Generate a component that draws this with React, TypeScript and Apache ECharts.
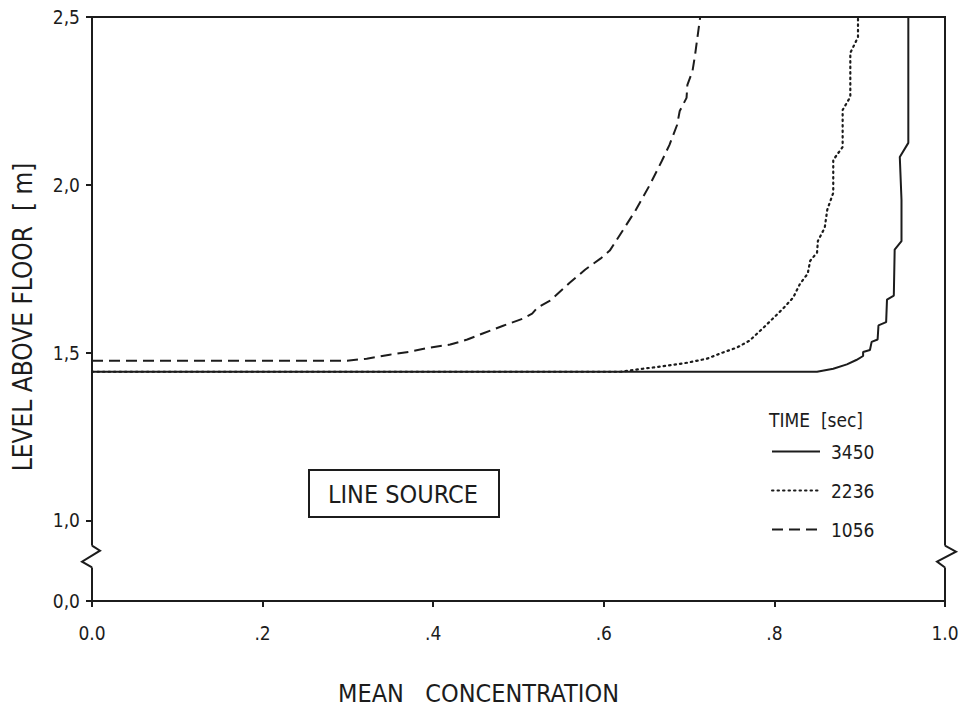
import React, { useEffect, useRef } from 'react';
import * as echarts from 'echarts';

// ---- data ----
const xTicks = [0, 0.2, 0.4, 0.6, 0.8, 1.0];
const xTickLabels = ['0.0', '.2', '.4', '.6', '.8', '1.0'];
// the lowest tick stands for 0,0 below an axis break
const yTicks = [0.76, 1.0, 1.5, 2.0, 2.5];
const yTickLabels = ['0,0', '1,0', '1,5', '2,0', '2,5'];

const seriesNames = ['3450', '2236', '1056'];

const solid3450: [number, number][] = [
  [0, 1.443], [0.85, 1.443], [0.869, 1.452], [0.885, 1.465], [0.896, 1.478],
  [0.904, 1.49], [0.904, 1.502], [0.912, 1.508], [0.914, 1.532], [0.921, 1.539],
  [0.922, 1.581], [0.931, 1.591], [0.932, 1.658], [0.94, 1.67], [0.941, 1.807],
  [0.949, 1.832], [0.949, 1.955], [0.947, 2.083], [0.957, 2.125], [0.957, 2.5],
];

const dotted2236: [number, number][] = [
  [0, 1.443], [0.62, 1.443], [0.646, 1.452], [0.674, 1.461], [0.698, 1.47],
  [0.721, 1.482], [0.736, 1.497], [0.756, 1.515], [0.771, 1.536], [0.787, 1.574],
  [0.798, 1.601], [0.81, 1.631], [0.822, 1.664], [0.83, 1.705], [0.839, 1.735],
  [0.842, 1.774], [0.85, 1.798], [0.851, 1.833], [0.859, 1.872], [0.862, 1.926],
  [0.869, 1.976], [0.869, 2.074], [0.88, 2.113], [0.88, 2.223], [0.889, 2.262],
  [0.889, 2.393], [0.898, 2.44], [0.898, 2.5],
];

const dashed1056: [number, number][] = [
  [0, 1.476], [0.299, 1.476], [0.322, 1.482], [0.349, 1.494], [0.373, 1.503],
  [0.396, 1.515], [0.42, 1.524], [0.44, 1.539], [0.458, 1.557], [0.482, 1.58],
  [0.505, 1.601], [0.516, 1.616], [0.522, 1.634], [0.537, 1.655], [0.56, 1.708],
  [0.578, 1.747], [0.596, 1.78], [0.607, 1.804], [0.625, 1.875], [0.637, 1.923],
  [0.654, 2.0], [0.668, 2.071], [0.677, 2.119], [0.686, 2.179], [0.689, 2.22],
  [0.697, 2.259], [0.698, 2.298], [0.704, 2.339], [0.707, 2.387], [0.713, 2.5],
];

const breakTop = 0.925;
const breakBottom = 0.86;

const FONT = '"DejaVu Sans Condensed", "DejaVu Sans", sans-serif';
const INK = '#1c1c1c';

export default function App() {
  const ref = useRef<HTMLDivElement>(null);

  useEffect(() => {
    document.body.style.margin = '0';
    const chart = echarts.init(ref.current!, null, { renderer: 'svg' });

    const lineBase = { type: 'line', symbol: 'none', showSymbol: false, animation: false };

    chart.setOption({
      animation: false,
      backgroundColor: '#ffffff',
      grid: {
        left: 92, right: 22, top: 17, bottom: 112,
        show: true, borderColor: INK, borderWidth: 2, backgroundColor: 'transparent',
      },
      xAxis: {
        type: 'value', min: 0, max: 1, interval: 0.2,
        name: 'MEAN   CONCENTRATION', nameLocation: 'middle', nameGap: 80,
        nameTextStyle: { fontFamily: FONT, fontSize: 25, color: INK, padding: [0, 80, 0, 0] },
        axisLine: { show: true, lineStyle: { color: INK, width: 2 } },
        axisTick: { show: true, inside: false, length: 6, lineStyle: { color: INK, width: 2 } },
        axisLabel: {
          margin: 22, fontFamily: FONT, fontSize: 19, color: INK,
          formatter: (v: number) => {
            const i = xTicks.findIndex((t) => Math.abs(t - v) < 1e-6);
            return i >= 0 ? xTickLabels[i] : '';
          },
        },
        splitLine: { show: false },
      },
      yAxis: {
        type: 'value', min: yTicks[0], max: yTicks[yTicks.length - 1],
        name: 'LEVEL ABOVE FLOOR  [ m]', nameLocation: 'middle', nameRotate: 90, nameGap: 56,
        nameTextStyle: { fontFamily: FONT, fontSize: 26, color: INK, padding: [0, 16, 0, 0] },
        axisLine: { show: true, lineStyle: { color: INK, width: 2 } },
        axisTick: { show: true, length: 6, customValues: yTicks, lineStyle: { color: INK, width: 2 } },
        axisLabel: {
          margin: 12, fontFamily: FONT, fontSize: 19, color: INK,
          customValues: yTicks,
          formatter: (v: number) => {
            const i = yTicks.findIndex((t) => Math.abs(t - v) < 1e-6);
            return i >= 0 ? yTickLabels[i] : '';
          },
        },
        splitLine: { show: false },
      },
      legend: {
        show: true, orient: 'vertical', left: 766, top: 437,
        itemWidth: 48, itemHeight: 12, itemGap: 20,
        data: seriesNames,
        itemStyle: { opacity: 0 },
        textStyle: { fontFamily: FONT, fontSize: 19, color: INK, padding: [0, 0, 0, 6] },
      },
      series: [
        { ...lineBase, name: seriesNames[0], data: solid3450, lineStyle: { color: INK, width: 2, type: 'solid' }, itemStyle: { color: INK } },
        { ...lineBase, name: seriesNames[1], data: dotted2236, lineStyle: { color: INK, width: 2.2, type: [1.5, 4], cap: 'round' }, itemStyle: { color: INK } },
        { ...lineBase, name: seriesNames[2], data: dashed1056, lineStyle: { color: INK, width: 2, type: [11, 6] }, itemStyle: { color: INK } },
      ],
    });

    const [xl, yA] = chart.convertToPixel({ gridIndex: 0 }, [0, breakTop]) as number[];
    const [xr, yB] = chart.convertToPixel({ gridIndex: 0 }, [1, breakBottom]) as number[];

    chart.setOption({
      graphic: [
        { type: 'rect', z: 100, shape: { x: xl - 3, y: yA, width: 6, height: yB - yA }, style: { fill: '#ffffff' } },
        { type: 'rect', z: 100, shape: { x: xr - 3, y: yA, width: 6, height: yB - yA }, style: { fill: '#ffffff' } },
        {
          type: 'polyline', z: 101,
          shape: { points: [[xl, yA], [xl + 8, yA + 5], [xl - 10, yA + 16], [xl, yB]] },
          style: { stroke: INK, lineWidth: 2, fill: null },
        },
        {
          type: 'polyline', z: 101,
          shape: { points: [[xr, yA], [xr + 11, yA + 6], [xr - 8, yA + 16], [xr, yB]] },
          style: { stroke: INK, lineWidth: 2, fill: null },
        },
        {
          type: 'text', z: 101, left: 769, top: 410,
          style: { text: 'TIME  [sec]', fontFamily: FONT, fontSize: 19, fill: INK },
        },
        {
          type: 'rect', z: 101, shape: { x: 309, y: 470, width: 190, height: 47 },
          style: { fill: '#ffffff', stroke: INK, lineWidth: 2 },
        },
        {
          type: 'text', z: 102, x: 403, y: 494,
          style: { text: 'LINE SOURCE', fontFamily: FONT, fontSize: 25, fill: INK, align: 'center', verticalAlign: 'middle' },
        },
      ],
    });

    return () => chart.dispose();
  }, []);

  return <div ref={ref} style={{ width: 967, height: 713 }} />;
}
